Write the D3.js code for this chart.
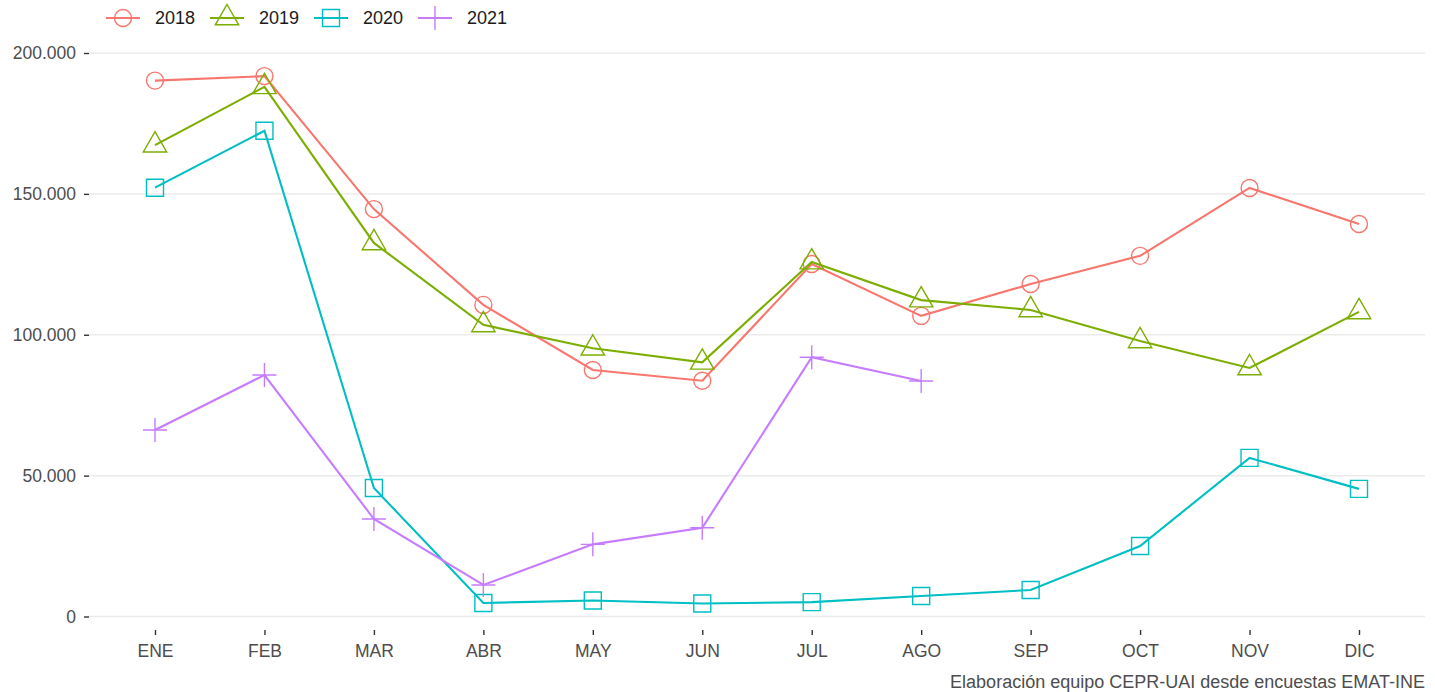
<!DOCTYPE html>
<html>
<head>
<meta charset="utf-8">
<script src="https://cdn.jsdelivr.net/npm/d3@7"></script>
<style>
  body { margin: 0; background: #fff; }
  text { font-family: "Liberation Sans", Arial, sans-serif; }
</style>
</head>
<body>
<div id="chart"></div>
<script>
// months and yearly series
var months = ["ENE","FEB","MAR","ABR","MAY","JUN","JUL","AGO","SEP","OCT","NOV","DIC"];
var years = ["2018","2019","2020","2021"];
var v2018 = [190200,191800,144600,110600,87500,83700,125100,106700,118000,128000,152100,139300];
var v2019 = [167300,188000,132600,103500,95200,90200,125800,112300,108800,97800,88200,108100];
var v2020 = [152200,172400,45600,4800,5700,4600,5100,7300,9400,25000,56300,45300];
var v2021 = [66200,85700,34600,11200,25600,31500,92000,83600];
var yTicks = [0,50000,100000,150000,200000];
var colors = ["#F8766D","#7CAE00","#00BFC4","#C77CFF"];
var shapes = ["circle","triangle","square","plus"];
var caption = "Elaboración equipo CEPR-UAI desde encuestas EMAT-INE";

var series = [v2018, v2019, v2020, v2021].map(function(vals, i) {
  return { year: years[i], color: colors[i], shape: shapes[i],
           pts: vals.map(function(v, j) { return { m: months[j], v: v }; }) };
});

var W = 1435, H = 692;
var left = 89, right = 1425, bottom = 630;

var svg = d3.select("#chart").append("svg")
  .attr("width", W).attr("height", H);

var x = d3.scalePoint().domain(months).range([155, 1359]);
var y = d3.scaleLinear().domain([0, 200000]).range([616.5, 53]);

var fmt = function(d) { return d3.format(",")(d).replace(/,/g, "."); };

// grid
svg.append("g").selectAll("line").data(yTicks).enter().append("line")
  .attr("x1", left).attr("x2", right)
  .attr("y1", function(d) { return y(d); }).attr("y2", function(d) { return y(d); })
  .style("stroke", "#EBEBEB").style("stroke-width", 1.5);

// y axis
var yAxis = svg.append("g").attr("transform", "translate(" + left + ",0)")
  .call(d3.axisLeft(y).tickValues(yTicks).tickFormat(fmt).tickSize(5).tickPadding(8));
yAxis.select(".domain").remove();
yAxis.selectAll("line").style("stroke", "#333").style("stroke-width", 1.4);
yAxis.selectAll("text").style("font-size", "17.5px").style("fill", "#4D4D4D");

// x axis
var xAxis = svg.append("g").attr("transform", "translate(0," + bottom + ")")
  .call(d3.axisBottom(x).tickSize(5).tickPadding(9.5));
xAxis.select(".domain").remove();
xAxis.selectAll("line").style("stroke", "#333").style("stroke-width", 1.4);
xAxis.selectAll("text").style("font-size", "17.5px").style("fill", "#4D4D4D");

function shapePath(shape) {
  if (shape === "circle") return "M8.5,0A8.5,8.5 0 1,1 -8.5,0A8.5,8.5 0 1,1 8.5,0Z";
  if (shape === "triangle") return "M0,-13.5L11.7,6.8L-11.7,6.8Z";
  if (shape === "square") return "M-8.5,-8.5H8.5V8.5H-8.5Z";
  return "M-12,0H12M0,-12V12";
}

var line = d3.line()
  .x(function(d) { return x(d.m); })
  .y(function(d) { return y(d.v); });

series.forEach(function(s) {
  svg.append("path").datum(s.pts)
    .attr("d", line)
    .style("fill", "none").style("stroke", s.color).style("stroke-width", 2.1);
  svg.append("g").selectAll("path").data(s.pts).enter().append("path")
    .attr("transform", function(d) { return "translate(" + x(d.m) + "," + y(d.v) + ")"; })
    .attr("d", shapePath(s.shape))
    .style("fill", "none").style("stroke", s.color).style("stroke-width", 1.4);
});

// legend
var leg = svg.append("g").selectAll("g").data(series).enter().append("g")
  .attr("transform", function(d, i) { return "translate(" + (123 + i * 104) + ",18)"; });
leg.append("line").attr("x1", -17).attr("x2", 17)
  .style("stroke", function(d) { return d.color; }).style("stroke-width", 2.1);
leg.append("path").attr("d", function(d) { return shapePath(d.shape); })
  .style("fill", "none").style("stroke", function(d) { return d.color; }).style("stroke-width", 1.4);
leg.append("text").attr("x", 32).attr("y", 6)
  .text(function(d) { return d.year; })
  .style("font-size", "18px").style("fill", "#1A1A1A");

// caption
svg.append("text").attr("x", 1425).attr("y", 688).attr("text-anchor", "end")
  .text(caption).style("font-size", "18px").style("fill", "#4D4D4D");
</script>
</body>
</html>
